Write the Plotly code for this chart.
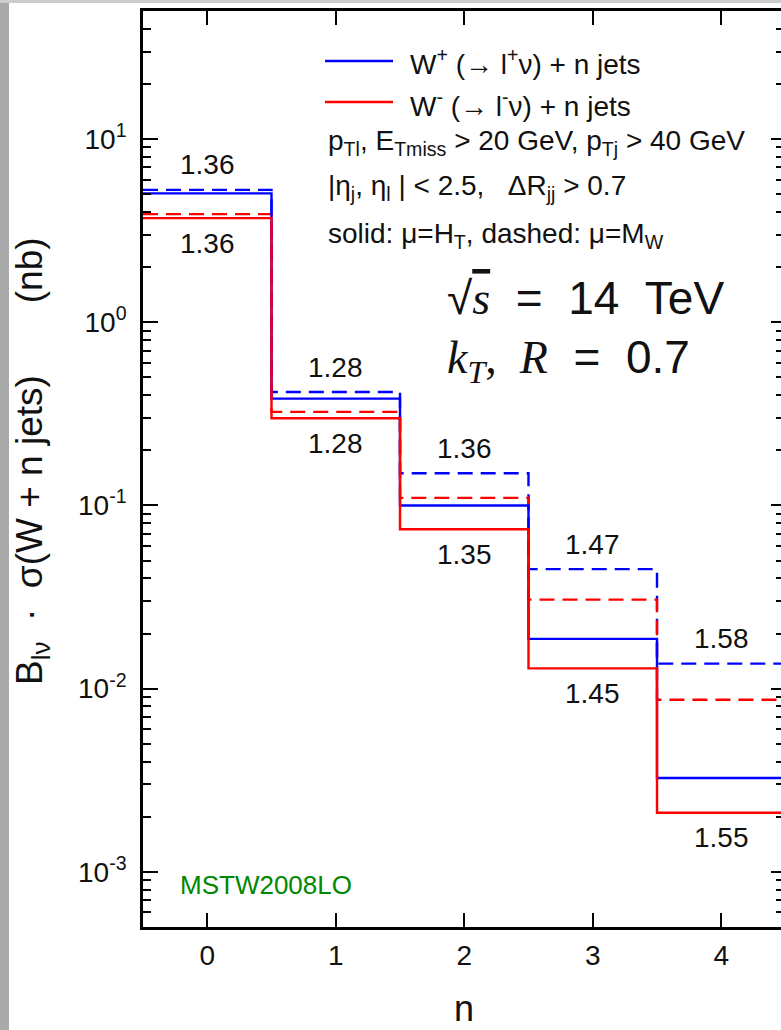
import numpy as np
import plotly.graph_objects as go

# Jet multiplicity bins
n_jets = [0, 1, 2, 3, 4]

# B_lv * sigma(W + n jets) in nb
wplus_ht = [5.05, 0.383, 0.100, 0.0187, 0.00325]     # W+, mu = H_T (solid)
wminus_ht = [3.70, 0.299, 0.0741, 0.0129, 0.0021]    # W-, mu = H_T (solid)
wplus_mw = [5.28, 0.416, 0.150, 0.0449, 0.0137]      # W+, mu = M_W (dashed)
wminus_mw = [3.89, 0.324, 0.110, 0.0306, 0.0087]     # W-, mu = M_W (dashed)

# W+/W- ratios printed at each bin
ratio_mw = ["1.36", "1.28", "1.36", "1.47", "1.58"]
ratio_ht = ["1.36", "1.28", "1.35", "1.45", "1.55"]

y_tickvals = [1e-3, 1e-2, 1e-1, 1e0, 1e1]
y_ticktext = ["10<sup>-3</sup>", "10<sup>-2</sup>", "10<sup>-1</sup>",
              "10<sup>0</sup>", "10<sup>1</sup>"]

W, H = 781, 1030
ML, MR, MT, MB = 143, 0, 11, 103
PW, PH = W - ML - MR, H - MT - MB

FONT = "Liberation Sans, Arial, sans-serif"
BLUE, RED = "#0000ff", "#ff0000"
NB = "\u00a0"

YMIN, YMAX = 5e-4, 50.0
# x range: one unit per bin, axis starts at -0.5; the frame runs off the right edge
X0 = -0.5
XMAX = X0 + PW / 128.5

minor_vals = [m * 10.0 ** e for e in range(-4, 2) for m in range(2, 10)
              if YMIN <= m * 10.0 ** e <= YMAX]


def px(x):
    return (x - ML) / PW


def py(y):
    return (H - MB - y) / PH


def step(vals):
    nj = np.asarray(n_jets, dtype=float)
    edges = np.append(nj - 0.5, nj[-1] + 0.5)
    return edges, list(vals) + [vals[-1]]


fig = go.Figure()
series = [
    (wplus_mw, BLUE, "dash"),
    (wminus_mw, RED, "dash"),
    (wplus_ht, BLUE, "solid"),
    (wminus_ht, RED, "solid"),
]
for vals, col, dash in series:
    xs, ys = step(vals)
    fig.add_trace(go.Scatter(
        x=xs, y=ys, mode="lines", line_shape="hv",
        line=dict(color=col, width=2.4, dash="15px,8px" if dash == "dash" else "solid"),
        showlegend=False, hoverinfo="skip"))

# empty trace carrying the right-hand tick axis
fig.add_trace(go.Scatter(x=[], y=[], yaxis="y2", showlegend=False))

ann = []
for i, nj in enumerate(n_jets):
    ann.append(dict(x=nj, y=np.log10(wplus_mw[i]), xref="x", yref="y",
                    text=ratio_mw[i], showarrow=False, yshift=25,
                    xanchor="center", yanchor="middle",
                    font=dict(family=FONT, size=28, color="#111111")))
    ann.append(dict(x=nj, y=np.log10(wminus_ht[i]), xref="x", yref="y",
                    text=ratio_ht[i], showarrow=False, yshift=-25,
                    xanchor="center", yanchor="middle",
                    font=dict(family=FONT, size=28, color="#111111")))


def label(x, y, text, size=28, color="#111111", family=FONT, **kw):
    d = dict(x=px(x), y=py(y), xref="paper", yref="paper", text=text,
             showarrow=False, xanchor="left", yanchor="middle",
             font=dict(family=family, size=size, color=color))
    d.update(kw)
    ann.append(d)


label(408, 62, "W<sup>+</sup> (\u2192 l<sup>+</sup>\u03bd) + n jets")
label(408, 104, "W<sup>-</sup> (\u2192 l<sup>-</sup>\u03bd) + n jets")
label(326, 142, "p<sub>Tl</sub>, E<sub>Tmiss</sub> > 20 GeV, p<sub>Tj</sub> > 40 GeV")
label(326, 187, "|\u03b7<sub>j</sub>, \u03b7<sub>l</sub> | < 2.5," + NB * 3 + "\u0394R<sub>jj</sub> > 0.7")
label(326, 235, "solid: \u03bc=H<sub>T</sub>, dashed: \u03bc=M<sub>W</sub>")

label(445, 298,
      "\u221a<span style=\"font-family:Liberation Serif;text-decoration:overline\"><i>s</i></span>"
      + NB * 2 + "=" + NB * 2 + "14" + NB * 2 + "TeV", size=46)
label(445, 360,
      "<span style=\"font-family:Liberation Serif\"><i>k<sub>T</sub></i>," + NB * 2 + "<i>R</i></span>"
      + NB * 2 + "=" + NB * 2 + "0.7", size=46)

label(178, 885, "MSTW2008LO", size=26, color="#008800")

# y-axis title
ann.append(dict(x=px(32), y=py(461), xref="paper", yref="paper",
                text="B<sub>l\u03bd</sub>" + NB * 2 + "\u00b7" + NB * 2
                     + "\u03c3(W + n jets)" + NB * 7 + "(nb)",
                textangle=-90, showarrow=False, xanchor="center", yanchor="middle",
                font=dict(family=FONT, size=37, color="#111111")))
# x-axis title
ann.append(dict(x=px(464), y=py(1009), xref="paper", yref="paper", text="n",
                showarrow=False, xanchor="center", yanchor="middle",
                font=dict(family=FONT, size=36, color="#111111")))

shapes = [
    # legend line samples
    dict(type="line", xref="paper", yref="paper", x0=px(325), x1=px(393),
         y0=py(61), y1=py(61), line=dict(color=BLUE, width=2.4)),
    dict(type="line", xref="paper", yref="paper", x0=px(325), x1=px(393),
         y0=py(102), y1=py(102), line=dict(color=RED, width=2.4)),
    # page border
    dict(type="rect", xref="paper", yref="paper", x0=px(0), x1=px(9),
         y0=py(H), y1=py(0), fillcolor="#a9a9a9", line=dict(width=0), layer="above"),
    dict(type="rect", xref="paper", yref="paper", x0=px(0), x1=px(W),
         y0=py(3), y1=py(0), fillcolor="#cccccc", line=dict(width=0), layer="above"),
]

fig.update_layout(
    width=W, height=H,
    margin=dict(l=ML, r=MR, t=MT, b=MB, pad=0),
    paper_bgcolor="white", plot_bgcolor="white",
    showlegend=False,
    annotations=ann, shapes=shapes,
    xaxis=dict(
        range=[X0, XMAX], tickmode="array", tickvals=n_jets,
        ticktext=[str(v) for v in n_jets],
        ticks="inside", ticklen=14, tickwidth=2.2, tickcolor="black",
        showline=True, linewidth=2.6, linecolor="black", mirror="ticks",
        showgrid=False, zeroline=False, ticklabelstandoff=2,
        tickfont=dict(family=FONT, size=28, color="#111111"),
    ),
    yaxis=dict(
        type="log", range=[np.log10(YMIN), np.log10(YMAX)],
        tickmode="array", tickvals=y_tickvals, ticktext=y_ticktext,
        ticks="inside", ticklen=15, tickwidth=2.2, tickcolor="black",
        minor=dict(tickmode="array", tickvals=minor_vals, ticks="inside",
                   ticklen=8, tickwidth=2.2, tickcolor="black", showgrid=False),
        showline=True, linewidth=2.6, linecolor="black", mirror=False,
        showgrid=False, zeroline=False, ticklabelstandoff=8,
        tickfont=dict(family=FONT, size=28, color="#111111"),
    ),
    yaxis2=dict(
        type="log", range=[np.log10(YMIN), np.log10(YMAX)],
        overlaying="y", side="right", anchor="x",
        tickmode="array", tickvals=y_tickvals, showticklabels=False,
        ticks="inside", ticklen=10, tickwidth=2.2, tickcolor="black",
        minor=dict(tickmode="array", tickvals=minor_vals, ticks="inside",
                   ticklen=5, tickwidth=2.2, tickcolor="black", showgrid=False),
        showline=False, showgrid=False, zeroline=False,
    ),
)

fig.write_html("out.html")
